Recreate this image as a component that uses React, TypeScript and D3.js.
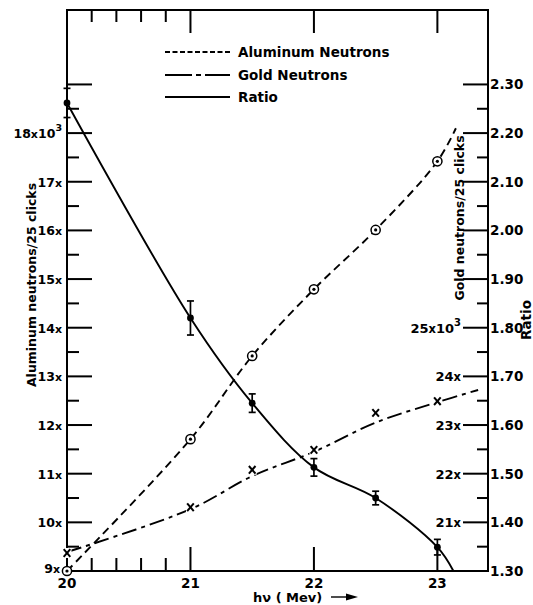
import React, { useEffect, useRef } from 'react';
import * as d3 from 'd3';

// photon energy h-nu (Mev) where the points were measured
const energies = [20, 21, 21.5, 22, 22.5, 23];
// aluminum neutrons / 25 clicks, in units of 10^3
const aluminumCounts = [9.0, 11.71, 13.42, 14.79, 16.01, 17.42];
// gold neutrons / 25 clicks, in units of 10^3
const goldCounts = [20.37, 21.31, 22.08, 22.49, 23.25, 23.49];
// ratio and its error bars
const ratioValues = [2.262, 1.82, 1.645, 1.513, 1.45, 1.349];
const ratioErrors = [0.03, 0.035, 0.019, 0.018, 0.014, 0.016];

// where the hand-drawn curves stop beyond the last point [energy, value]
const aluminumCurveEnd: [number, number] = [23.15, 18.1];
const ratioCurveEnd: [number, number] = [23.13, 1.3];
// the gold curve is a smooth fit that runs just under the x marks
const goldFitEnergies = [20, 21, 21.5, 22, 22.5, 23, 23.33];
const goldFitCounts = [20.39, 21.27, 21.95, 22.45, 23.05, 23.47, 23.72];

// ticks
const energyTicks = [20, 21, 22, 23];
const energyMinorTicks = [20.2, 20.4, 20.6, 20.8];
const aluminumTicks = [10, 11, 12, 13, 14, 15, 16, 17, 18, 19];
const aluminumMinorTicks = [9.5, 10.5, 11.5, 12.5, 13.5, 14.5, 15.5, 16.5, 17.5, 18.5];
const aluminumLabels = [9, 10, 11, 12, 13, 14, 15, 16, 17, 18];
const ratioTicks = [1.3, 1.4, 1.5, 1.6, 1.7, 1.8, 1.9, 2.0, 2.1, 2.2, 2.3];
const ratioMinorTicks = [1.35, 1.45, 1.55, 1.65, 1.75, 1.85, 1.95, 2.05, 2.15, 2.25];
const goldLabels = [21, 22, 23, 24, 25];

const FONT = "'DejaVu Sans', sans-serif";
const INK = '#000';

const NeutronChart = () => {
  const ref = useRef<SVGSVGElement>(null);

  useEffect(() => {
    drawChart();
  }, []); // eslint-disable-line react-hooks/exhaustive-deps

  const drawChart = () => {
    const svg = d3.select(ref.current);
    svg.selectAll('*').remove();

    const x = d3.scaleLinear().domain([20, 23.41]).range([67, 488]);
    const yAl = d3.scaleLinear().domain([9, 20.53]).range([571, 10]);
    const yRatio = d3.scaleLinear().domain([1.3, 2.453]).range([571, 10]);
    const yGold = d3.scaleLinear().domain([20, 31.53]).range([571, 10]);

    const [x0, x1] = x.range();
    const [yb, yt] = yAl.range();

    // frame
    svg.append('rect')
      .attr('x', x0).attr('y', yt).attr('width', x1 - x0).attr('height', yb - yt)
      .attr('fill', 'none').attr('stroke', INK).attr('stroke-width', 2);

    // inward ticks as filled bars (positions from the scales)
    const tickG = svg.append('g').attr('fill', INK);
    const hTicks = (vals: number[], y: (v: number) => number, from: number, len: number) =>
      tickG.append('g').selectAll('rect').data(vals).enter().append('rect')
        .attr('x', len > 0 ? from : from + len).attr('width', Math.abs(len))
        .attr('y', (d) => y(d) - 1).attr('height', 2);
    const vTicks = (vals: number[], from: number, len: number) =>
      tickG.append('g').selectAll('rect').data(vals).enter().append('rect')
        .attr('y', len > 0 ? from : from + len).attr('height', Math.abs(len))
        .attr('x', (d) => x(d) - 1).attr('width', 2);

    hTicks(aluminumTicks, yAl, x0, 25);
    hTicks(aluminumMinorTicks, yAl, x0, 12);
    hTicks(ratioTicks, yRatio, x1, -25);
    hTicks(ratioMinorTicks, yRatio, x1, -11);
    vTicks(energyTicks.slice(1), yb, -24);
    vTicks(energyMinorTicks, yb, -13);
    vTicks(energyTicks.slice(1), yt, 23);
    vTicks(energyMinorTicks, yt, 12);

    const labels = svg.append('g')
      .attr('font-family', FONT).attr('font-weight', 'bold').attr('fill', INK);

    // bottom energy labels
    labels.append('g').selectAll('text').data(energyTicks).enter().append('text')
      .attr('x', (d) => x(d)).attr('y', yb + 17)
      .attr('text-anchor', 'middle').attr('font-size', 13.5)
      .text((d) => d3.format('d')(d));

    // right ratio labels
    labels.append('g').selectAll('text').data(ratioTicks).enter().append('text')
      .attr('x', x1 + 2).attr('y', (d) => yRatio(d) + 5)
      .attr('font-size', 13.5)
      .text((d) => d3.format('.2f')(d));

    // left labels  "9x" ... "18x10^3"
    const leftLab = labels.append('g').selectAll('text').data(aluminumLabels).enter().append('text')
      .attr('x', (d) => x0 - (d === 9 ? 7 : 5)).attr('y', (d) => yAl(d) + (d === 9 ? 2 : 5))
      .attr('text-anchor', 'end');
    leftLab.append('tspan').attr('font-size', 12.5).text((d) => String(d));
    leftLab.append('tspan').attr('font-size', 11).text('x');
    leftLab.filter((d) => d === 18).append('tspan').attr('font-size', 12.5).text('10');
    leftLab.filter((d) => d === 18).append('tspan').attr('font-size', 9.5).attr('dy', -7).text('3');

    // gold labels "21x" ... "25x10^3"
    const goldLab = labels.append('g').selectAll('text').data(goldLabels).enter().append('text')
      .attr('x', x1 - 27).attr('y', (d) => yGold(d) + 5)
      .attr('text-anchor', 'end');
    goldLab.append('tspan').attr('font-size', 13).text((d) => String(d));
    goldLab.append('tspan').attr('font-size', 11.5).text('x');
    goldLab.filter((d) => d === 25).append('tspan').attr('font-size', 13).text('10');
    goldLab.filter((d) => d === 25).append('tspan').attr('font-size', 10).attr('dy', -7).text('3');

    const curve = d3.line<[number, number]>().curve(d3.curveCatmullRom.alpha(0.5));

    // aluminum (dashed)
    const alPts: [number, number][] = energies.map((e, i) => [x(e), yAl(aluminumCounts[i])]);
    alPts.push([x(aluminumCurveEnd[0]), yAl(aluminumCurveEnd[1])]);
    svg.append('path').attr('d', curve(alPts))
      .attr('fill', 'none').attr('stroke', INK).attr('stroke-width', 1.9)
      .attr('stroke-dasharray', '8,5');

    // gold (dash-dot)
    const auPts: [number, number][] = goldFitEnergies.map((e, i) => [x(e), yGold(goldFitCounts[i])]);
    svg.append('path').attr('d', curve(auPts))
      .attr('fill', 'none').attr('stroke', INK).attr('stroke-width', 1.9)
      .attr('stroke-dasharray', '15,5,4,5');

    // ratio (solid)
    const rPts: [number, number][] = energies.map((e, i) => [x(e), yRatio(ratioValues[i])]);
    rPts.push([x(ratioCurveEnd[0]), yRatio(ratioCurveEnd[1])]);
    svg.append('path').attr('d', curve(rPts))
      .attr('fill', 'none').attr('stroke', INK).attr('stroke-width', 1.9);

    // ratio error bars + dots
    const eb = svg.append('g').attr('stroke', INK).attr('stroke-width', 1.7);
    energies.forEach((e, i) => {
      const cx = x(e);
      const top = yRatio(ratioValues[i] + ratioErrors[i]);
      const bot = yRatio(ratioValues[i] - ratioErrors[i]);
      eb.append('line').attr('x1', cx).attr('x2', cx).attr('y1', top).attr('y2', bot);
      eb.append('line').attr('x1', cx - 3.5).attr('x2', cx + 3.5).attr('y1', top).attr('y2', top);
      eb.append('line').attr('x1', cx - 3.5).attr('x2', cx + 3.5).attr('y1', bot).attr('y2', bot);
    });
    svg.append('g').selectAll('circle').data(energies).enter().append('circle')
      .attr('cx', (d) => x(d)).attr('cy', (d, i) => yRatio(ratioValues[i]))
      .attr('r', 3.4).attr('fill', INK);

    // aluminum markers (circled dot)
    const alM = svg.append('g').selectAll('g').data(energies).enter().append('g')
      .attr('transform', (d, i) => `translate(${x(d)},${yAl(aluminumCounts[i])})`);
    alM.append('circle').attr('r', 4.6).attr('fill', '#fff').attr('stroke', INK).attr('stroke-width', 1.5);
    alM.append('circle').attr('r', 1.6).attr('fill', INK);

    // gold markers (x)
    const auM = svg.append('g').selectAll('g').data(energies).enter().append('g')
      .attr('transform', (d, i) => `translate(${x(d)},${yGold(goldCounts[i])})`);
    auM.append('rect').attr('x', -4.5).attr('y', -5).attr('width', 9).attr('height', 10).attr('fill', '#fff');
    auM.append('line').attr('x1', -3.3).attr('y1', -3.8).attr('x2', 3.3).attr('y2', 3.8)
      .attr('stroke', INK).attr('stroke-width', 2);
    auM.append('line').attr('x1', 3.3).attr('y1', -3.8).attr('x2', -3.3).attr('y2', 3.8)
      .attr('stroke', INK).attr('stroke-width', 2);

    // legend
    const legendItems = [
      { label: 'Aluminum Neutrons', dash: '5,2.5', y: 52 },
      { label: 'Gold Neutrons', dash: '27,4,5,4,40', y: 75 },
      { label: 'Ratio', dash: null, y: 97 },
    ];
    const lg = svg.append('g');
    legendItems.forEach((it) => {
      lg.append('line').attr('x1', 165).attr('x2', 230).attr('y1', it.y).attr('y2', it.y)
        .attr('stroke', INK).attr('stroke-width', 1.9)
        .attr('stroke-dasharray', it.dash);
      lg.append('text').attr('x', 238).attr('y', it.y + 5)
        .attr('font-family', FONT).attr('font-weight', 'bold').attr('font-size', 13.5)
        .attr('fill', INK).text(it.label);
    });

    // axis titles
    const title = (tx: number, ty: number, txt: string, size: number) =>
      svg.append('text')
        .attr('transform', `translate(${tx},${ty}) rotate(-90)`)
        .attr('text-anchor', 'middle')
        .attr('font-family', FONT).attr('font-weight', 'bold').attr('font-size', size)
        .attr('fill', INK).text(txt);
    title(36, 285, 'Aluminum neutrons/25 clicks', 12.5);
    title(464, 218, 'Gold neutrons/25 clicks', 12.5);
    title(531, 320, 'Ratio', 13.5);

    svg.append('text').attr('x', 253).attr('y', 602)
      .attr('font-family', FONT).attr('font-weight', 'bold').attr('font-size', 13)
      .attr('fill', INK).text('hν ( Mev)');
    svg.append('line').attr('x1', 331).attr('x2', 352).attr('y1', 597).attr('y2', 597)
      .attr('stroke', INK).attr('stroke-width', 1.4);
    svg.append('path').attr('d', 'M346,593.5 L358,597 L346,600.5 Z').attr('fill', INK);
  };

  return (
    <svg
      ref={ref}
      width="533"
      height="605"
      style={{ position: 'absolute', left: 0, top: 0, background: '#fff' }}
    ></svg>
  );
};

export default function App() {
  return <NeutronChart />;
}
